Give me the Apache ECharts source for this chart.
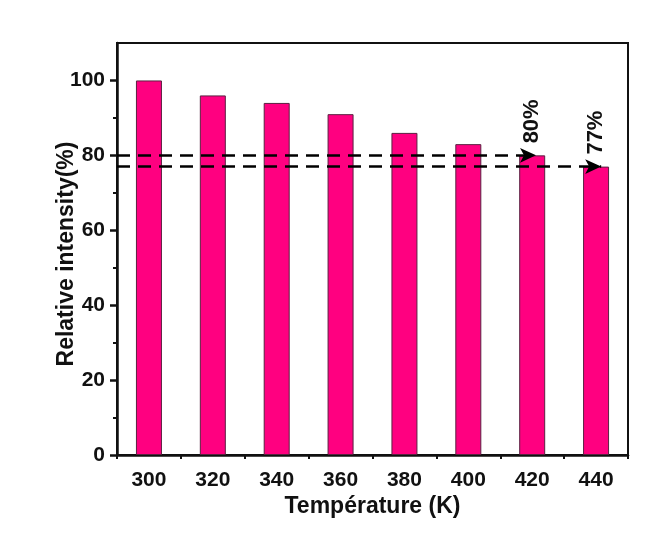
<!DOCTYPE html>
<html>
<head>
<meta charset="utf-8">
<script src="https://cdn.jsdelivr.net/npm/echarts@6/dist/echarts.min.js"></script>
<style>
  html, body { margin: 0; padding: 0; background: #fff; }
  #BarChart { width: 655px; height: 548px; }
</style>
</head>
<body>
<div id="BarChart"></div>
<script>
// data
const temperatures = ['300', '320', '340', '360', '380', '400', '420', '440'];
const intensity = [100, 96, 94, 91, 86, 83, 80, 77];
const labelledIdx = [6, 7];            // bars carrying the "80%" / "77%" notes
const refLines = [
  { value: 80, from: -0.5, to: 6.06 },
  { value: 77, from: -0.5, to: 7.08 }
];
const yTicks = [0, 20, 40, 60, 80, 100];
const yMinorTicks = [10, 30, 50, 70, 90];

const font = 'Liberation Sans, Arial, sans-serif';

const barData = intensity.map((v, i) => {
  if (labelledIdx.indexOf(i) < 0) return v;
  return {
    value: v,
    label: {
      show: true,
      position: 'top',
      rotate: 90,
      align: 'left',
      verticalAlign: 'middle',
      distance: 8,
      offset: [4, 0],
      formatter: '{c}%',
      color: '#111',
      fontFamily: font,
      fontSize: 22,
      fontWeight: 'bold'
    }
  };
});

const chart = echarts.init(document.getElementById('BarChart'));
const option = {
  backgroundColor: '#fff',
  animation: false,
  grid: {
    left: 117, right: 27, top: 43, bottom: 93,
    show: true, borderColor: '#111', borderWidth: 2, backgroundColor: 'transparent'
  },
  xAxis: [
    {
      type: 'category',
      data: temperatures,
      name: 'Température (K)',
      nameLocation: 'middle',
      nameGap: 40,
      nameMoveOverlap: false,
      nameTextStyle: { fontFamily: font, fontSize: 23, fontWeight: 'bold', color: '#111' },
      axisLine: { lineStyle: { color: '#111', width: 2.5 } },
      axisTick: { alignWithLabel: true, length: 7, lineStyle: { width: 2.5, color: '#111' } },
      axisLabel: { fontFamily: font, fontSize: 21, fontWeight: 'bold', color: '#111', margin: 15 },
      splitLine: { show: false }
    },
    {
      // helper axis: minor ticks between categories and coords for the dashed arrows
      type: 'value',
      position: 'bottom',
      min: -0.5, max: 7.5, interval: 1,
      axisLine: { show: false },
      axisTick: { show: true, length: 4, lineStyle: { width: 2, color: '#111' } },
      axisLabel: { show: false },
      splitLine: { show: false }
    }
  ],
  yAxis: [
    {
      type: 'value',
      min: 0, max: 110, interval: 20,
      name: 'Relative intensity(%)',
      nameLocation: 'middle',
      nameGap: 39,
      nameMoveOverlap: false,
      nameTextStyle: {
        fontFamily: font, fontSize: 23, fontWeight: 'bold', color: '#111',
        padding: [0, 10, 0, 0]
      },
      axisLine: { show: true, onZero: false, lineStyle: { color: '#111', width: 2.5 } },
      axisTick: { show: true, length: 7, customValues: yTicks, lineStyle: { width: 2.5, color: '#111' } },
      axisLabel: {
        fontFamily: font, fontSize: 21, fontWeight: 'bold', color: '#111', margin: 12,
        customValues: yTicks
      },
      splitLine: { show: false }
    },
    {
      // minor ticks only
      type: 'value',
      position: 'left',
      min: 0, max: 110, interval: 10,
      axisLine: { show: false, onZero: false },
      axisTick: { show: true, length: 4, customValues: yMinorTicks, lineStyle: { width: 2, color: '#111' } },
      axisLabel: { show: false },
      splitLine: { show: false }
    }
  ],
  series: [
    {
      type: 'bar',
      data: barData,
      barWidth: 26,
      itemStyle: { color: '#ff0080', borderColor: '#5a2040', borderWidth: 1 },
      z: 2
    },
    {
      type: 'line',
      xAxisIndex: 1,
      data: [],
      silent: true,
      markLine: {
        silent: true,
        symbol: ['none', 'arrow'],
        symbolSize: [11, 16],
        label: { show: false },
        lineStyle: { color: '#000', width: 2.5, type: [13, 8] },
        data: refLines.map(r => [
          { coord: [r.from, r.value] },
          { coord: [r.to, r.value] }
        ])
      },
      z: 5
    }
  ]
};
chart.setOption(option);
window.addEventListener('resize', chart.resize);
</script>
</body>
</html>
